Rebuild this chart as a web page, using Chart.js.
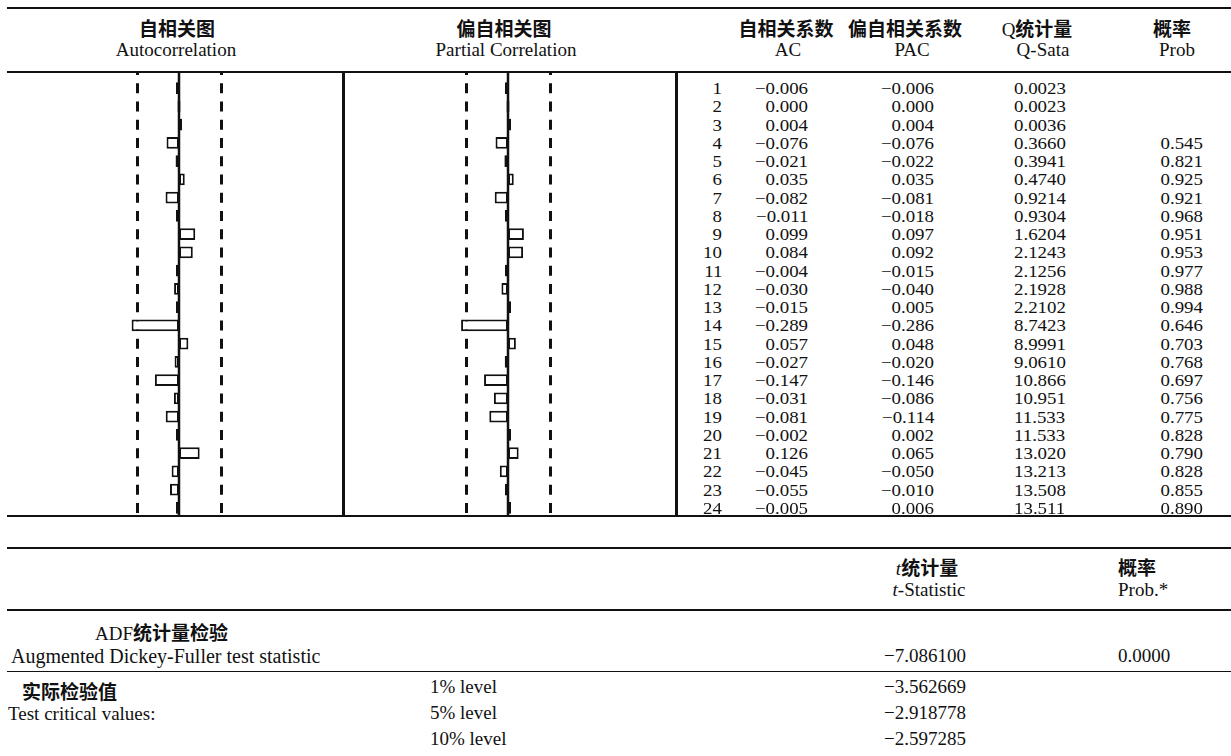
<!DOCTYPE html>
<html>
<head>
<meta charset="utf-8">
<title>ADF 检验与相关图</title>
<script src="https://cdn.jsdelivr.net/npm/chart.js@4.4.1/dist/chart.umd.min.js"></script>
<style>
  html, body { margin: 0; padding: 0; background: #fff; }
  #page { position: relative; width: 1231px; height: 756px; overflow: hidden; background: #fff; color: #111; }
  .t { position: absolute; white-space: nowrap; line-height: 18px; height: 18px; }
  .s { font-family: "Liberation Serif", "Times New Roman", serif; font-size: 19px; }
  .c { font-family: "Noto Sans CJK SC", sans-serif; font-weight: 700; font-size: 19px; }
  .wide { font-size: 20px; }
  /* 表体数字：字号压低、横向拉宽，行距 18px 左右 */
  .n { font-family: "Liberation Serif", "Times New Roman", serif; font-size: 16px; line-height: 16px; height: 16px; }
  .rule { position: absolute; background: #111; }
  canvas.panel { position: absolute; }
</style>
</head>
<body>
<div id="page">
  <canvas id="acfChart" class="panel" width="164" height="445" style="left:97px;top:72px"></canvas>
  <canvas id="pacfChart" class="panel" width="164" height="445" style="left:426px;top:72px"></canvas>
</div>
<script>
// ===== 数据 =====
const lags = ['1', '2', '3', '4', '5', '6', '7', '8', '9', '10', '11', '12',
              '13', '14', '15', '16', '17', '18', '19', '20', '21', '22', '23', '24'];
const acValues = [-0.006, 0.000, 0.004, -0.076, -0.021, 0.035, -0.082, -0.011, 0.099, 0.084, -0.004, -0.030,
                  -0.015, -0.289, 0.057, -0.027, -0.147, -0.031, -0.081, -0.002, 0.126, -0.045, -0.055, -0.005];
const pacValues = [-0.006, 0.000, 0.004, -0.076, -0.022, 0.035, -0.081, -0.018, 0.097, 0.092, -0.015, -0.040,
                   0.005, -0.286, 0.048, -0.020, -0.146, -0.086, -0.114, 0.002, 0.065, -0.050, -0.010, 0.006];
const qStats = [0.0023, 0.0023, 0.0036, 0.3660, 0.3941, 0.4740, 0.9214, 0.9304, 1.6204, 2.1243, 2.1256, 2.1928,
                2.2102, 8.7423, 8.9991, 9.0610, 10.866, 10.951, 11.533, 11.533, 13.020, 13.213, 13.508, 13.511];
const qProbs = [null, null, null, 0.545, 0.821, 0.925, 0.921, 0.968, 0.951, 0.953, 0.977, 0.988,
                0.994, 0.646, 0.703, 0.768, 0.697, 0.756, 0.775, 0.828, 0.790, 0.828, 0.855, 0.890];
const confBound = 0.256; // 2/sqrt(n)

const adfStat = -7.086100;
const adfProb = 0.0000;
const criticalLevels = ['1% level', '5% level', '10% level'];
const criticalValues = [-3.562669, -2.918778, -2.597285];

// ===== 工具 =====
const W = 1231;
const page = document.getElementById('page');

function fmt(v, d) {
  return v.toFixed(d).replace('-', '\u2212');
}

function put(html, x, y, align, cls) {
  const el = document.createElement('div');
  el.className = 't ' + (cls === undefined ? 's' : cls);
  el.innerHTML = html;
  el.style.top = (y - 9) + 'px';
  if (align === 'right') el.style.right = (W - x) + 'px';
  else el.style.left = x + 'px';
  if (align === 'center') el.style.transform = 'translateX(-50%)';
  page.appendChild(el);
  return el;
}

// 表体单元格：横向拉宽 1.18 倍
function cell(text, x, y, align) {
  const el = put(text, x, y + 1, align, 'n');
  el.style.transformOrigin = align === 'right' ? 'right center' : 'left center';
  el.style.transform = 'scaleX(1.18)';
}

function rule(x, y, w, h) {
  const el = document.createElement('div');
  el.className = 'rule';
  Object.assign(el.style, { left: x + 'px', top: y + 'px', width: w + 'px', height: h + 'px' });
  page.appendChild(el);
}

// 虚线置信带 + 零线
const guideLines = {
  id: 'guideLines',
  beforeDatasetsDraw(chart) {
    const { ctx, scales: { x, y } } = chart;
    const step = y.getPixelForValue(1) - y.getPixelForValue(0);
    const dash = 10;
    const start = ((y.getPixelForValue(0) - dash / 2) % step + step) % step;
    ctx.save();
    ctx.strokeStyle = '#111';
    ctx.lineWidth = 3;
    ctx.setLineDash([dash, step - dash]);
    ctx.lineDashOffset = step - start;
    [-confBound, confBound].forEach(v => {
      const px = Math.round(x.getPixelForValue(v)) + 0.5;
      ctx.beginPath();
      ctx.moveTo(px, 0);
      ctx.lineTo(px, chart.height - 1);
      ctx.stroke();
    });
    ctx.restore();
  },
  afterDatasetsDraw(chart) {
    const { ctx, scales: { x } } = chart;
    const px = x.getPixelForValue(0);
    ctx.save();
    ctx.strokeStyle = '#111';
    ctx.lineWidth = 2.5;
    ctx.beginPath();
    ctx.moveTo(px, 0);
    ctx.lineTo(px, chart.height - 1);
    ctx.stroke();
    ctx.restore();
  }
};

function makePanel(id, values) {
  return new Chart(document.getElementById(id), {
    type: 'bar',
    data: {
      labels: lags,
      datasets: [{
        data: values,
        backgroundColor: '#fff',
        borderColor: '#111',
        borderWidth: 2,
        borderSkipped: false,
        barPercentage: 0.64,
        categoryPercentage: 1,
        minBarLength: 3
      }]
    },
    options: {
      indexAxis: 'y',
      responsive: false,
      animation: false,
      devicePixelRatio: 1,
      layout: { padding: { top: 7, bottom: 0, left: 0, right: 0 } },
      scales: {
        x: { display: false, min: -0.5, max: 0.5 },
        y: { display: false }
      },
      plugins: { legend: { display: false }, tooltip: { enabled: false } }
    },
    plugins: [guideLines]
  });
}

// ===== 上表：相关图 =====
rule(7, 7, W - 7, 2);
rule(7, 71, W - 7, 2);
rule(7, 515, W - 7, 2);
rule(342, 72, 3, 444);
rule(675, 72, 3, 444);

put('自相关图', 177, 28, 'center', 'c');
put('Autocorrelation', 176, 50, 'center');
put('偏自相关图', 504, 28, 'center', 'c');
put('Partial Correlation', 506, 50, 'center');
put('自相关系数', 786, 28, 'center', 'c');
put('AC', 788, 50, 'center');
put('偏自相关系数', 905, 28, 'center', 'c');
put('PAC', 912, 50, 'center');
put('<span class="s">Q</span><span class="c">统计量</span>', 1037, 28, 'center', '');
put('Q-Sata', 1043, 50, 'center');
put('概率', 1172, 28, 'center', 'c');
put('Prob', 1177, 50, 'center');

const acfChart = makePanel('acfChart', acValues);
makePanel('pacfChart', pacValues);

const yScale = acfChart.scales.y;
lags.forEach((lag, i) => {
  const cy = 72 + yScale.getPixelForValue(i) + 1;
  cell(lag, 722, cy, 'right');
  cell(fmt(acValues[i], 3), 808, cy, 'right');
  cell(fmt(pacValues[i], 3), 934, cy, 'right');
  cell(fmt(qStats[i], qStats[i] < 10 ? 4 : 3), 1014, cy, 'left');
  if (qProbs[i] !== null) cell(fmt(qProbs[i], 3), 1203, cy, 'right');
});

// ===== 下表：ADF 检验 =====
rule(7, 547, W - 7, 2);
rule(7, 609, W - 7, 2);
rule(7, 671, W - 7, 1);

put('<i>t</i><span class="c">统计量</span>', 927, 567, 'center', 's');
put('<i>t</i>-Statistic', 929, 590, 'center');
put('概率', 1118, 567, 'left', 'c');
put('Prob.*', 1118, 590, 'left');

put('<span class="s">ADF</span><span class="c">统计量检验</span>', 95, 632, 'left', '');
put('Augmented Dickey-Fuller test statistic', 11, 656, 'left', 's wide');
put(fmt(adfStat, 6), 966, 656, 'right');
put(fmt(adfProb, 4), 1118, 656, 'left');

put('实际检验值', 22, 691, 'left', 'c');
put('Test critical values:', 8, 714, 'left');
criticalLevels.forEach((lvl, i) => {
  const cy = 687 + i * 26;
  put(lvl, 430, cy, 'left');
  put(fmt(criticalValues[i], 6), 966, cy, 'right');
});
</script>
</body>
</html>
